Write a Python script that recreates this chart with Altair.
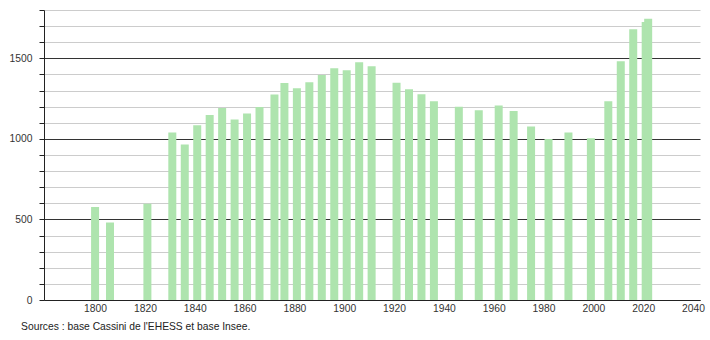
import altair as alt
import pandas as pd

years = [1800, 1806, 1821, 1831, 1836, 1841, 1846, 1851, 1856, 1861, 1866,
         1872, 1876, 1881, 1886, 1891, 1896, 1901, 1906, 1911, 1921, 1926,
         1931, 1936, 1946, 1954, 1962, 1968, 1975, 1982, 1990, 1999, 2006,
         2011, 2016, 2021, 2022]
population = [577, 481, 598, 1040, 965, 1085, 1148, 1191, 1121, 1158, 1198,
              1275, 1347, 1314, 1351, 1397, 1438, 1426, 1476, 1451, 1349, 1308,
              1277, 1233, 1200, 1177, 1208, 1173, 1077, 1000, 1040, 1004, 1233,
              1482, 1681, 1725, 1745]
x_tick_labels = [1800, 1820, 1840, 1860, 1880, 1900, 1920, 1940, 1960, 1980,
                 2000, 2020, 2040]
y_ticks = list(range(0, 1801, 100))
source_text = "Sources : base Cassini de l'EHESS et base Insee."

df = pd.DataFrame({"year": years, "pop": population})

FONT = "Liberation Sans"
FS = 10.3

chart = alt.Chart(df).mark_bar(size=8, color="#aee4ae").encode(
    x=alt.X("year:Q",
            scale=alt.Scale(domain=[1779.5, 2042.8], nice=False, zero=False,
                            padding=0),
            axis=alt.Axis(values=x_tick_labels, format="d", title=None,
                          grid=False, ticks=False, tickSize=0,
                          labelPadding=3, domainColor="#222",
                          labelColor="#333", labelFontSize=FS, labelFont=FONT)),
    y=alt.Y("pop:Q",
            scale=alt.Scale(domain=[0, 1800], nice=False, padding=0),
            axis=alt.Axis(values=y_ticks, title=None,
                          labelExpr="datum.value % 500 === 0 ? datum.label : ''",
                          format="d",
                          grid=True,
                          gridColor={"condition": {"test": "datum.value % 500 === 0",
                                                   "value": "#333333"},
                                     "value": "#cccccc"},
                          tickSize=5, tickColor="#222", domainColor="#222",
                          labelPadding=7, labelColor="#333",
                          labelFontSize=FS, labelFont=FONT)),
).properties(
    width=656,
    height=290,
    autosize=alt.AutoSizeParams(type="none"),
    padding={"left": 44, "top": 10, "right": 10, "bottom": 40},
    title=alt.TitleParams(source_text, orient="bottom", anchor="start",
                          dx=12, offset=9, fontSize=FS, font=FONT,
                          fontWeight="normal", color="#222"),
).configure_view(stroke=None)

chart.save("out.html", embed_options={"renderer": "svg", "actions": False})
